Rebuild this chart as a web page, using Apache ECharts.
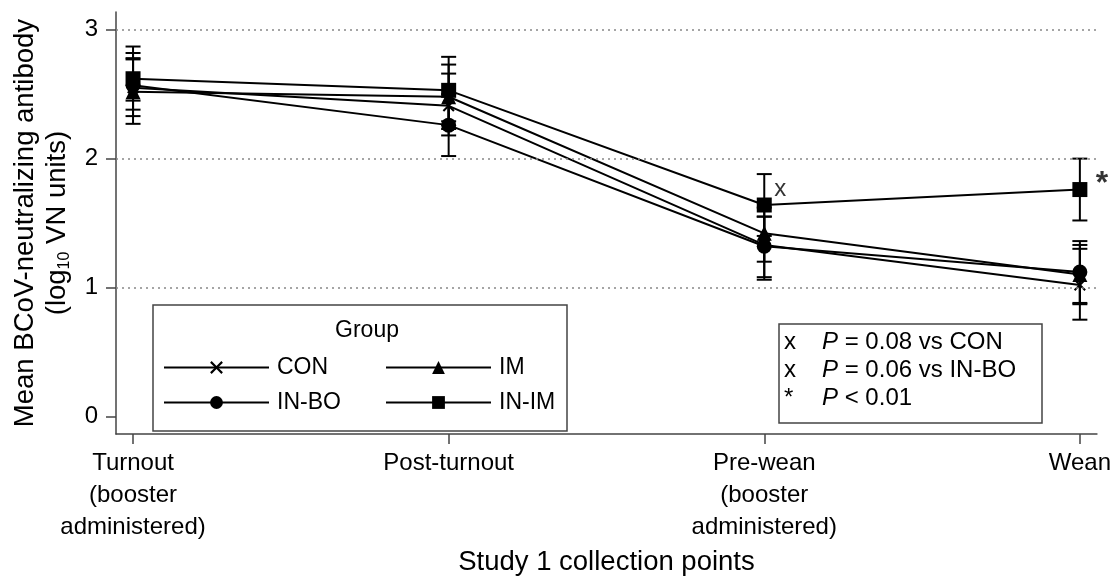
<!DOCTYPE html>
<html><head><meta charset="utf-8">
<script src="https://cdn.jsdelivr.net/npm/echarts@6/dist/echarts.min.js"></script>
<style>html,body{margin:0;padding:0;background:#fff}#c{width:1114px;height:581px}</style>
</head><body><div id="c"></div>
<script>
// ---- data ----
const categories = ['Turnout\n(booster\nadministered)', 'Post-turnout', 'Pre-wean\n(booster\nadministered)', 'Wean'];
const categoryIndex = [0, 1, 2, 3];
const yTicks = [0, 1, 2, 3];
const groups = ['CON', 'IM', 'IN-BO', 'IN-IM'];

const conMean  = [2.55, 2.41, 1.33, 1.02];
const conLow   = [2.33, 2.18, 1.08, 0.75];
const conHigh  = [2.78, 2.66, 1.55, 1.30];
const imMean   = [2.52, 2.48, 1.42, 1.10];
const imLow    = [2.27, 2.23, 1.20, 0.87];
const imHigh   = [2.77, 2.73, 1.62, 1.33];
const inboMean = [2.57, 2.26, 1.32, 1.12];
const inboLow  = [2.38, 2.02, 1.06, 0.88];
const inboHigh = [2.82, 2.50, 1.55, 1.36];
const inimMean = [2.62, 2.53, 1.64, 1.76];
const inimLow  = [2.45, 2.29, 1.40, 1.52];
const inimHigh = [2.87, 2.79, 1.88, 2.00];

const sigMarks = [['IN-IM', 2, 'x'], ['IN-IM', 3, '*']];
const pNotes = [['x', 'P', ' = 0.08 vs CON'], ['x', 'P', ' = 0.06 vs IN-BO'], ['*', 'P', ' < 0.01']];
const xTitle = 'Study 1 collection points';
const yTitle = 'Mean BCoV-neutralizing antibody\n(log{sub|10} VN units)';
const legendTitle = 'Group';

// ---- styling / build ----
const FONT = '"Liberation Sans", Arial, Helvetica, sans-serif';
const means = {'CON': conMean, 'IM': imMean, 'IN-BO': inboMean, 'IN-IM': inimMean};
const lows = {'CON': conLow, 'IM': imLow, 'IN-BO': inboLow, 'IN-IM': inimLow};
const highs = {'CON': conHigh, 'IM': imHigh, 'IN-BO': inboHigh, 'IN-IM': inimHigh};
const symbols = {
  'CON': 'path://M0,1.2L1.2,0L5,3.8L8.8,0L10,1.2L6.2,5L10,8.8L8.8,10L5,6.2L1.2,10L0,8.8L3.8,5Z',
  'IM': 'triangle', 'IN-BO': 'circle', 'IN-IM': 'rect'
};
const sizes = {'CON': 12, 'IM': 15, 'IN-BO': 15, 'IN-IM': 15};

function errRender(params, api) {
  const x = api.value(0);
  const lo = api.coord([x, api.value(1)]);
  const hi = api.coord([x, api.value(2)]);
  const w = 7.5;
  const style = {stroke: '#000', lineWidth: 2};
  return {type: 'group', children: [
    {type: 'line', shape: {x1: lo[0], y1: lo[1], x2: hi[0], y2: hi[1]}, style: style},
    {type: 'line', shape: {x1: lo[0] - w, y1: lo[1], x2: lo[0] + w, y2: lo[1]}, style: style},
    {type: 'line', shape: {x1: hi[0] - w, y1: hi[1], x2: hi[0] + w, y2: hi[1]}, style: style}
  ]};
}

const series = [];
groups.forEach(g => {
  series.push({
    type: 'custom', name: g + ' error', renderItem: errRender, silent: true, z: 1,
    encode: {x: 0, y: [1, 2]},
    data: categoryIndex.map(i => [i, lows[g][i], highs[g][i]])
  });
});
groups.forEach((g, k) => {
  const s = {
    type: 'line', name: g, z: 3,
    data: categoryIndex.map(i => [i, means[g][i]]),
    symbol: symbols[g], symbolSize: sizes[g],
    lineStyle: {color: '#000', width: 2},
    itemStyle: {color: '#000'}
  };
  if (k === 0) {
    s.markLine = {
      silent: true, symbol: 'none', label: {show: false},
      lineStyle: {color: '#888', type: [2, 4], width: 1.5},
      data: yTicks.filter(v => v > 0).map(v => ({yAxis: v}))
    };
  }
  series.push(s);
});
const markOffsets = {'x': [16, -16], '*': [22, -5]};
const markStyle = {'x': {fontSize: 24, fontWeight: 'normal'}, '*': {fontSize: 32, fontWeight: 'bold'}};
series.push({
  type: 'scatter', name: 'sig', symbolSize: 0, silent: true, z: 5,
  data: sigMarks.map(m => ({
    value: [m[1], means[m[0]][m[1]]],
    label: Object.assign({show: true, formatter: m[2], offset: markOffsets[m[2]]}, markStyle[m[2]])
  })),
  label: {show: true, position: 'inside', color: '#000', fontFamily: FONT}
});

const legendPos = {'CON': [163, 356], 'IM': [385, 356], 'IN-BO': [163, 391], 'IN-IM': [385, 391]};
const legends = groups.map(g => ({
  data: [g], left: legendPos[g][0], top: legendPos[g][1],
  itemWidth: 105, itemHeight: 16, padding: 0, selectedMode: false,
  textStyle: {fontSize: 23, color: '#000', fontFamily: FONT, padding: [0, 0, 0, 3]}
}));

const graphics = [
  {type: 'rect', shape: {x: 153, y: 305, width: 414, height: 126}, style: {fill: 'none', stroke: '#444', lineWidth: 1.5}},
  {type: 'text', x: 367, y: 331, style: {text: legendTitle, fontSize: 23, fontFamily: FONT, fill: '#000', align: 'center', verticalAlign: 'middle'}},
  {type: 'rect', shape: {x: 779, y: 324, width: 263, height: 99}, style: {fill: 'none', stroke: '#444', lineWidth: 1.5}}
];
pNotes.forEach((n, i) => {
  const y = 342 + i * 28;
  graphics.push({type: 'text', x: 784, y: y, style: {text: n[0], fontSize: 24, fontFamily: FONT, fill: '#000', verticalAlign: 'middle'}});
  graphics.push({type: 'text', x: 822, y: y, style: {
    text: '{i|' + n[1] + '}' + n[2], fontSize: 24, fontFamily: FONT, fill: '#000', verticalAlign: 'middle',
    rich: {i: {fontStyle: 'italic', fontSize: 24, fontFamily: FONT, fill: '#000'}}
  }});
});

const chart = echarts.init(document.getElementById('c'));
chart.setOption({
  animation: false,
  backgroundColor: '#fff',
  grid: {left: 116, right: 17, top: 12, bottom: 143, containLabel: false},
  xAxis: {
    type: 'value', min: -0.054, max: 3.054,
    axisLine: {show: true, onZero: false, lineStyle: {color: '#444', width: 1.5}},
    axisTick: {show: true, customValues: categoryIndex, length: 10, lineStyle: {color: '#444', width: 1.5}},
    axisLabel: {customValues: categoryIndex, formatter: v => categories[Math.round(v)],
      fontSize: 24, lineHeight: 32, margin: 13, color: '#000', fontFamily: FONT},
    splitLine: {show: false},
    name: xTitle, nameLocation: 'middle', nameGap: 106,
    nameTextStyle: {fontSize: 27.5, color: '#000', fontFamily: FONT}
  },
  yAxis: {
    type: 'value', min: -0.138, max: 3.138,
    axisLine: {show: true, onZero: false, lineStyle: {color: '#444', width: 1.5}},
    axisTick: {show: true, customValues: yTicks, length: 10, lineStyle: {color: '#444', width: 1.5}},
    axisLabel: {customValues: yTicks, fontSize: 24, margin: 18, color: '#000', fontFamily: FONT},
    splitLine: {show: false},
    name: yTitle, nameLocation: 'middle', nameGap: 43,
    nameTextStyle: {fontSize: 27.5, lineHeight: 32, color: '#000', fontFamily: FONT,
      rich: {sub: {fontSize: 16, lineHeight: 32, verticalAlign: 'bottom', color: '#000', fontFamily: FONT}}}
  },
  legend: legends,
  graphic: graphics,
  series: series
});
</script>
</body></html>
